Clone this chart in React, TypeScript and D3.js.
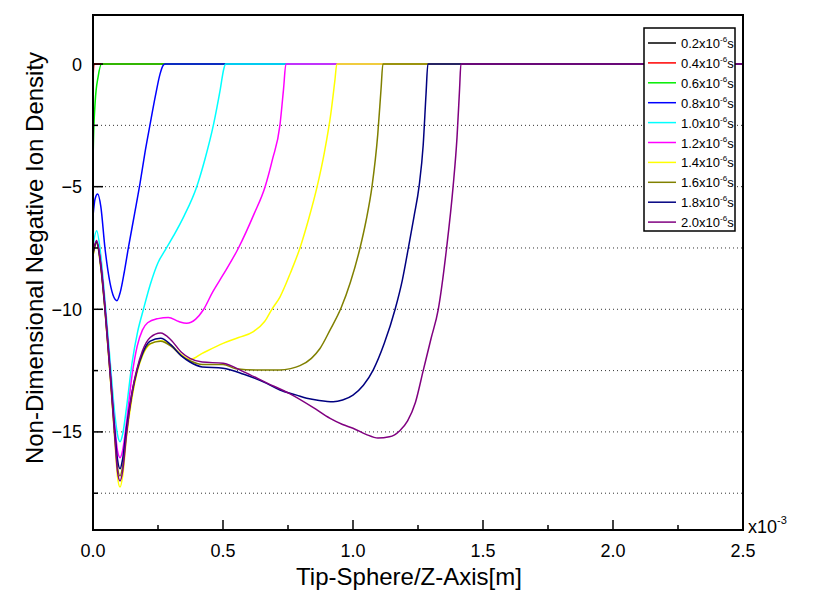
import React from "react";
import * as d3 from "d3";

// ---- data (x in 1e-3 m, y non-dimensional density) ----
const s02: [number, number][] = [[0, -0.3], [0.002, 0], [2.5, 0]];
const s04: [number, number][] = [[0, -0.6], [0.004, 0], [2.5, 0]];
const s06: [number, number][] = [[0, -4.3], [0.001, -3.5], [0.008, -1.6], [0.02, -0.5], [0.033, 0], [2.5, 0]];
const s08: [number, number][] = [
  [0, -6.2], [0.008, -5.5], [0.018, -5.3], [0.03, -5.8], [0.046, -7.5], [0.065, -8.9], [0.08, -9.5],
  [0.092, -9.65], [0.105, -9.3], [0.12, -8.5], [0.136, -7.5], [0.16, -6.1], [0.181, -4.86], [0.2, -3.6],
  [0.219, -2.49], [0.24, -1.3], [0.258, -0.4], [0.27, -0.05], [0.277, 0], [2.5, 0],
];
const s10: [number, number][] = [
  [0, -7.4], [0.014, -6.8], [0.03, -7.8], [0.045, -9.5], [0.065, -12.0], [0.085, -14.4], [0.094, -15.1],
  [0.104, -15.4], [0.114, -15.1], [0.129, -14.0], [0.15, -12.2], [0.172, -10.9], [0.194, -10.0],
  [0.22, -9.0], [0.25, -8.1], [0.277, -7.6], [0.31, -7.0], [0.35, -6.2], [0.399, -5.0], [0.43, -3.9],
  [0.463, -2.49], [0.49, -1.0], [0.503, -0.2], [0.51, 0], [2.5, 0],
];
const s12: [number, number][] = [
  [0, -7.7], [0.014, -7.25], [0.03, -8.1], [0.045, -9.7], [0.065, -12.3], [0.085, -14.9], [0.094, -15.75],
  [0.104, -16.05], [0.114, -15.75], [0.129, -14.6], [0.15, -12.7], [0.17, -11.5], [0.19, -10.85],
  [0.21, -10.55], [0.25, -10.38], [0.29, -10.33], [0.33, -10.5], [0.36, -10.57], [0.395, -10.4],
  [0.424, -10.03], [0.46, -9.3], [0.5, -8.6], [0.559, -7.51], [0.62, -6.1], [0.662, -5.0], [0.69, -3.9],
  [0.719, -2.49], [0.733, -1.0], [0.742, 0], [2.5, 0],
];
const s14: [number, number][] = [
  [0, -7.8], [0.014, -7.3], [0.03, -8.3], [0.045, -9.9], [0.065, -12.6], [0.085, -15.5], [0.094, -16.8],
  [0.104, -17.25], [0.114, -16.8], [0.129, -15.2], [0.15, -13.6], [0.17, -12.55], [0.19, -11.9],
  [0.22, -11.42], [0.26, -11.28], [0.3, -11.45], [0.34, -11.85], [0.373, -12.05], [0.42, -11.8],
  [0.5, -11.39], [0.56, -11.15], [0.617, -10.91], [0.66, -10.5], [0.688, -10.0], [0.719, -9.5],
  [0.76, -8.5], [0.796, -7.5], [0.83, -6.3], [0.862, -5.0], [0.89, -3.6], [0.915, -2.0], [0.93, -0.7],
  [0.938, 0], [2.5, 0],
];
const s16: [number, number][] = [
  [0, -7.8], [0.014, -7.3], [0.03, -8.3], [0.045, -9.9], [0.065, -12.5], [0.085, -15.3], [0.094, -16.4],
  [0.104, -16.8], [0.114, -16.4], [0.129, -15.0], [0.15, -13.5], [0.17, -12.5], [0.19, -11.85],
  [0.22, -11.4], [0.26, -11.3], [0.3, -11.5], [0.34, -11.9], [0.373, -12.1], [0.42, -12.25],
  [0.5, -12.25], [0.55, -12.42], [0.642, -12.48], [0.719, -12.48], [0.76, -12.42], [0.796, -12.3],
  [0.84, -12.0], [0.873, -11.6], [0.912, -10.84], [0.954, -9.95], [0.99, -8.9], [1.027, -7.5],
  [1.05, -6.4], [1.073, -5.0], [1.095, -2.9], [1.108, -1.0], [1.115, 0], [2.5, 0],
];
const s18: [number, number][] = [
  [0, -7.7], [0.014, -7.25], [0.03, -8.2], [0.045, -9.8], [0.065, -12.4], [0.085, -15.1], [0.094, -16.1],
  [0.104, -16.5], [0.114, -16.1], [0.129, -14.8], [0.15, -13.4], [0.17, -12.45], [0.19, -11.8],
  [0.22, -11.3], [0.26, -11.18], [0.3, -11.45], [0.34, -11.9], [0.373, -12.15], [0.42, -12.35],
  [0.5, -12.4], [0.58, -12.65], [0.668, -13.02], [0.719, -13.29], [0.783, -13.5], [0.822, -13.63],
  [0.87, -13.72], [0.924, -13.77], [0.96, -13.7], [1.0, -13.5], [1.04, -13.1], [1.078, -12.47],
  [1.12, -11.4], [1.162, -10.0], [1.19, -8.8], [1.213, -7.5], [1.235, -6.2], [1.254, -5.0], [1.27, -3.3],
  [1.281, -1.2], [1.288, 0], [2.5, 0],
];
const s20: [number, number][] = [
  [0, -7.7], [0.014, -7.2], [0.03, -8.2], [0.045, -9.85], [0.065, -12.5], [0.085, -15.4], [0.094, -16.6],
  [0.104, -17.0], [0.114, -16.6], [0.129, -15.1], [0.15, -13.4], [0.17, -12.4], [0.19, -11.7],
  [0.22, -11.15], [0.26, -10.97], [0.3, -11.25], [0.34, -11.75], [0.373, -12.0], [0.42, -12.15],
  [0.5, -12.2], [0.58, -12.55], [0.668, -13.0], [0.758, -13.45], [0.846, -14.0], [0.912, -14.45],
  [0.96, -14.7], [1.0, -14.85], [1.05, -15.1], [1.096, -15.25], [1.14, -15.2], [1.18, -14.95],
  [1.21, -14.55], [1.24, -13.8], [1.27, -12.5], [1.3, -11.2], [1.328, -10.0], [1.36, -7.5],
  [1.385, -5.0], [1.4, -3.0], [1.41, -1.0], [1.415, 0], [2.5, 0],
];

const SERIES = [s02, s04, s06, s08, s10, s12, s14, s16, s18, s20];
const LABELS = ["0.2", "0.4", "0.6", "0.8", "1.0", "1.2", "1.4", "1.6", "1.8", "2.0"];
const COLORS = ["#000000", "#ff0000", "#00ee00", "#0000ff", "#00ffff", "#ff00ff", "#ffff00", "#808000", "#000080", "#800080"];

const X_DOMAIN: [number, number] = [0, 2.5];
const Y_DOMAIN: [number, number] = [-19, 2];
const X_MAJOR = [0, 0.5, 1.0, 1.5, 2.0, 2.5];
const X_MINOR = [0.25, 0.75, 1.25, 1.75, 2.25];
const Y_MAJOR = [0, -5, -10, -15];
const Y_MINOR = [-2.5, -7.5, -12.5, -17.5];
const Y_GRID = [-2.5, -5, -7.5, -10, -12.5, -15, -17.5];

export default function App() {
  const W = 815, H = 600;
  const L = 93, R = 743, T = 15, B = 530;
  const x = d3.scaleLinear().domain(X_DOMAIN).range([L, R]);
  const y = d3.scaleLinear().domain(Y_DOMAIN).range([B, T]);
  const line = d3
    .line<[number, number]>()
    .x((d) => x(d[0]))
    .y((d) => y(d[1]))
    .curve(d3.curveMonotoneX);
  const font = "Arial, 'Liberation Sans', sans-serif";

  const legX = 644, legY = 28, legW = 91, legH = 203;
  const rowY0 = 43, rowDy = 19.9;

  return (
    <svg width={W} height={H} style={{ position: "absolute", left: 0, top: 0, display: "block", background: "#fff" }} fontFamily={font}>
      <defs>
        <clipPath id="plotclip">
          <rect x={L} y={T} width={R - L} height={B - T} />
        </clipPath>
      </defs>
      <rect x={0} y={0} width={W} height={H} fill="#fff" />
      {/* grid */}
      {Y_GRID.map((v) => (
        <line key={"g" + v} x1={L} x2={R} y1={y(v)} y2={y(v)} stroke="#333" strokeWidth={1} strokeDasharray="1,3" />
      ))}
      {/* curves */}
      <g clipPath="url(#plotclip)">
        {SERIES.map((s, i) => (
          <path key={i} d={line(s) || ""} fill="none" stroke={COLORS[i]} strokeWidth={1.5} strokeLinejoin="round" />
        ))}
      </g>
      {/* frame */}
      <rect x={L} y={T} width={R - L} height={B - T} fill="none" stroke="#000" strokeWidth={2} />
      {/* x ticks */}
      {X_MAJOR.map((v) => (
        <g key={"xm" + v}>
          <line x1={x(v)} x2={x(v)} y1={B} y2={B - 10} stroke="#000" strokeWidth={1.5} />
          <text x={x(v)} y={557} fontSize={18} textAnchor="middle">{d3.format(".1f")(v)}</text>
        </g>
      ))}
      {X_MINOR.map((v) => (
        <line key={"xn" + v} x1={x(v)} x2={x(v)} y1={B} y2={B - 5} stroke="#000" strokeWidth={1.5} />
      ))}
      {/* y ticks */}
      {Y_MAJOR.map((v) => (
        <g key={"ym" + v}>
          <line x1={L} x2={L + 10} y1={y(v)} y2={y(v)} stroke="#000" strokeWidth={1.5} />
          <text x={82} y={y(v) + 6.5} fontSize={18} textAnchor="end">{d3.format("d")(v)}</text>
        </g>
      ))}
      {Y_MINOR.map((v) => (
        <line key={"yn" + v} x1={L} x2={L + 5} y1={y(v)} y2={y(v)} stroke="#000" strokeWidth={1.5} />
      ))}
      {/* multiplier */}
      <text x={748} y={533} fontSize={18}>
        x10<tspan fontSize={11} dy={-9}>-3</tspan>
      </text>
      {/* axis titles */}
      <text x={409} y={585} fontSize={24} textAnchor="middle">Tip-Sphere/Z-Axis[m]</text>
      <text transform={`translate(43,258) rotate(-90)`} fontSize={24} textAnchor="middle">
        Non-Dimensional Negative Ion Density
      </text>
      {/* legend */}
      <rect x={legX} y={legY} width={legW} height={legH} fill="#fff" stroke="#000" strokeWidth={1.5} />
      {LABELS.map((lab, i) => {
        const ry = rowY0 + i * rowDy;
        return (
          <g key={"lg" + i}>
            <line x1={648} x2={676} y1={ry} y2={ry} stroke={COLORS[i]} strokeWidth={1.5} />
            <text x={681} y={ry + 5} fontSize={13}>
              {lab}x10<tspan fontSize={8} dy={-6}>-6</tspan><tspan fontSize={13} dy={6}>s</tspan>
            </text>
          </g>
        );
      })}
    </svg>
  );
}
